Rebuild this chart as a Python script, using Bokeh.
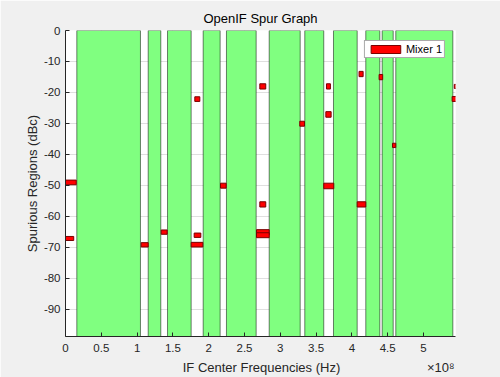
from bokeh.plotting import figure
from bokeh.models import Range1d, Legend, LegendItem, FixedTicker, ColumnDataSource, LinearAxis
from bokeh.embed import file_html
from bokeh.resources import INLINE

# Open IF bands (Hz) - green regions free of spurs
band_lo = [0.158e8, 1.155e8, 1.425e8, 1.923e8, 2.248e8, 2.845e8, 3.342e8, 3.743e8, 4.194e8, 4.423e8, 4.613e8]
band_hi = [1.047e8, 1.331e8, 1.755e8, 2.160e8, 2.663e8, 3.278e8, 3.607e8, 4.074e8, 4.390e8, 4.577e8, 5.410e8]

# Spur regions for Mixer 1 (frequency range in Hz, level range in dBc)
spur_f_lo = [-0.02e8, -0.02e8, 1.057e8, 1.337e8, 1.797e8, 1.755e8, 1.806e8, 2.165e8, 2.714e8, 2.714e8,
             2.668e8, 2.668e8, 3.272e8, 3.645e8, 3.636e8, 3.607e8, 4.074e8, 4.100e8, 4.380e8, 4.567e8,
             5.430e8, 5.400e8]
spur_f_hi = [0.150e8, 0.115e8, 1.155e8, 1.420e8, 1.890e8, 1.918e8, 1.876e8, 2.244e8, 2.797e8, 2.797e8,
             2.845e8, 2.845e8, 3.338e8, 3.700e8, 3.710e8, 3.747e8, 4.194e8, 4.157e8, 4.430e8, 4.613e8,
             5.470e8, 5.500e8]
spur_db_hi = [-48.3, -66.5, -68.5, -64.4, -65.4, -68.4, -21.4, -49.3, -17.2, -55.3,
              -64.3, -65.3, -29.3, -17.2, -26.2, -49.3, -55.3, -13.2, -14.2, -36.4,
              -17.4, -21.3]
spur_db_lo = [-49.8, -67.8, -69.9, -65.8, -66.8, -69.9, -22.9, -50.9, -18.9, -57.0,
              -66.0, -66.9, -30.9, -18.9, -28.0, -51.1, -57.0, -14.9, -15.9, -37.8,
              -18.7, -22.9]

x_ticks = [0, 0.5e8, 1e8, 1.5e8, 2e8, 2.5e8, 3e8, 3.5e8, 4e8, 4.5e8, 5e8]
x_tick_labels = ["0", "0.5", "1", "1.5", "2", "2.5", "3", "3.5", "4", "4.5", "5"]
y_ticks = [0, -10, -20, -30, -40, -50, -60, -70, -80, -90]
y_tick_labels = ["0", "-10", "-20", "-30", "-40", "-50", "-60", "-70", "-80", "-90"]
x_title = "IF Center Frequencies (Hz)"
x_multiplier = "\u00d710\u2078"

FONT = "Liberation Sans"
AX = "#262626"

p = figure(width=500, height=377, output_backend="svg", toolbar_location=None,
           x_range=Range1d(0, 5.447e8), y_range=Range1d(-98.8, 0),
           min_border_left=65, min_border_right=45, min_border_top=30, min_border_bottom=41)

p.background_fill_color = "white"
p.border_fill_color = "#f0f0f0"
p.outline_line_color = None

p.title.text = "OpenIF Spur Graph"
p.title.align = "center"
p.title.text_font = FONT
p.title.text_font_size = "13px"
p.title.text_font_style = "normal"
p.title.text_color = "#000000"

bands = ColumnDataSource(dict(left=band_lo, right=band_hi,
                              top=[0] * len(band_lo), bottom=[-120] * len(band_lo)))
p.quad(left="left", right="right", top="top", bottom="bottom", source=bands,
       fill_color="#80FF80", line_color="black", line_alpha=0.5, line_width=1)

spurs = ColumnDataSource(dict(left=spur_f_lo, right=spur_f_hi, top=spur_db_hi, bottom=spur_db_lo))
r_spur = p.quad(left="left", right="right", top="top", bottom="bottom", source=spurs,
                fill_color="#FF0000", line_color="#7a0000", line_width=1)

# axes
p.xaxis.ticker = FixedTicker(ticks=x_ticks)
p.xaxis.major_label_overrides = {t: l for t, l in zip(x_ticks, x_tick_labels)}
p.yaxis.ticker = FixedTicker(ticks=y_ticks)
p.yaxis.major_label_overrides = {t: l for t, l in zip(y_ticks, y_tick_labels)}
p.yaxis.axis_label = "Spurious Regions (dBc)"
for ax in (p.xaxis, p.yaxis):
    ax.axis_label_text_font = FONT
    ax.axis_label_text_font_size = "13px"
    ax.axis_label_text_font_style = "normal"
    ax.axis_label_text_color = AX
    ax.major_label_text_font = FONT
    ax.major_label_text_font_size = "11.5px"
    ax.major_label_text_color = AX
    ax.axis_line_color = AX
    ax.major_tick_line_color = AX
    ax.major_tick_in = 4
    ax.major_tick_out = 0
    ax.minor_tick_line_color = None
p.xaxis.major_label_standoff = 7
p.yaxis.major_label_standoff = 5
p.yaxis.axis_label_standoff = 1

# second row below the tick labels: x title (centred) and the x10^8 multiplier (right)
lab_ticks = [2.737e8, 5.24e8]
lab_axis = LinearAxis(ticker=FixedTicker(ticks=lab_ticks),
                      major_label_overrides={lab_ticks[0]: x_title, lab_ticks[1]: x_multiplier},
                      axis_line_color=None, major_tick_line_color=None, minor_tick_line_color=None,
                      major_tick_in=0, major_tick_out=0,
                      major_label_standoff=5, major_label_text_font=FONT,
                      major_label_text_font_size="13px", major_label_text_color=AX)
p.add_layout(lab_axis, "below")

p.xgrid.ticker = FixedTicker(ticks=x_ticks)
p.ygrid.ticker = FixedTicker(ticks=y_ticks)
p.grid.grid_line_color = "#dfdfdf"

legend = Legend(items=[LegendItem(label="Mixer 1", renderers=[r_spur])], location="top_right",
                margin=10, padding=2, spacing=0, glyph_width=37, glyph_height=10,
                label_height=10, label_standoff=2, label_text_font=FONT, label_text_font_size="11px",
                label_text_color="#000000", border_line_color="#555555", border_line_width=1,
                background_fill_color="white", background_fill_alpha=1.0)
p.add_layout(legend)

open("out.html", "w").write(file_html(p, INLINE))
